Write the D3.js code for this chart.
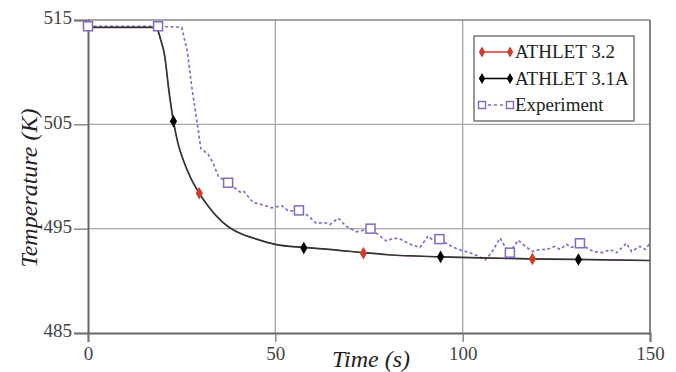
<!DOCTYPE html>
<html>
<head>
<meta charset="utf-8">
<script src="https://cdn.jsdelivr.net/npm/d3@7"></script>
<style>
  body { margin: 0; background: #fff; }
  svg { display: block; font-family: "Liberation Serif", "DejaVu Serif", serif; }
</style>
</head>
<body>
<script>
// time (s) / temperature (K)
var athletTime = [0, 17.5, 18.5, 19.4, 20.5, 21.5, 22.8, 24, 25.4, 27.5, 29.7, 32, 34.3, 37, 40, 45, 50, 57.5, 65, 73.5, 80, 94, 105, 118, 130, 150];
var athlet32 = [514.3, 514.3, 514.1, 513.1, 511.5, 508.5, 505.3, 503.2, 501.6, 499.8, 498.4, 497.2, 496.2, 495.3, 494.65, 494.0, 493.5, 493.2, 493.0, 492.7, 492.5, 492.3, 492.2, 492.1, 492.05, 491.95];
var athlet31A = [514.3, 514.3, 514.1, 513.1, 511.5, 508.5, 505.3, 503.2, 501.6, 499.8, 498.4, 497.2, 496.2, 495.3, 494.65, 494.0, 493.5, 493.2, 493.0, 492.7, 492.5, 492.3, 492.2, 492.1, 492.05, 491.95];
var marks32 = [[29.7, 498.4], [73.5, 492.65], [118.6, 492.1]];
var marks31A = [[22.8, 505.3], [57.6, 493.15], [94.1, 492.3], [130.9, 492.05]];

var expTime = [0, 18.7, 25, 26.5, 27.7, 29.4, 30.1, 32.1, 33.5, 34.8, 37.4, 40.6, 41.5, 44.1, 46.5, 49, 51.7, 53.5, 56.3, 58.5, 61, 63, 64.6, 66.8, 69, 71.7, 75.4, 77.9, 79.7, 81.5, 83.3, 86, 88.6, 90.8, 92, 93.8, 96, 98.8, 101.9, 104, 106, 107.7, 110, 111.3, 112.6, 114.8, 117.1, 118.8, 120.5, 122.4, 124.6, 126, 127.7, 129.1, 131.3, 133, 134.9, 137.5, 139.3, 141.1, 143.7, 145.1, 147.3, 148.7, 150];
var expTemp = [514.4, 514.4, 514.3, 512, 508.6, 504.5, 502.7, 502.1, 501.2, 500.0, 499.4, 498.5, 498.6, 497.5, 497.3, 497.0, 497.2, 496.7, 496.75, 496.3, 495.5, 495.6, 495.4, 496.0, 495.2, 494.7, 495.0, 494.3, 493.8, 494.1, 494.0, 493.5, 493.2, 494.3, 493.9, 494.0, 493.5, 493.0, 492.7, 492.4, 492.0, 492.7, 494.1, 493.3, 492.7, 493.9, 493.2, 492.8, 493.0, 493.0, 493.3, 493.0, 493.5, 493.2, 493.6, 493.2, 492.8, 492.7, 493.0, 492.7, 493.6, 492.8, 493.3, 493.0, 493.6];
var expMarks = [[0, 514.4], [18.7, 514.4], [37.4, 499.4], [56.3, 496.75], [75.4, 495.0], [93.8, 494.0], [112.6, 492.7], [131.3, 493.6]];

var xTicks = [0, 50, 100, 150];
var yTicks = [485, 495, 505, 515];
var legendNames = ["ATHLET 3.2", "ATHLET 3.1A", "Experiment"];

var width = 676, height = 372;
var plotL = 88, plotR = 650, plotT = 20, plotB = 333;

var svg = d3.select("body").append("svg")
    .attr("width", width)
    .attr("height", height);

var x = d3.scaleLinear().domain([0, 150]).range([plotL, plotR]);
var y = d3.scaleLinear().domain([485, 515]).range([plotB, plotT]);

// grid
svg.append("g").selectAll("line")
  .data(xTicks.slice(1, 3))
  .enter().append("line")
    .attr("x1", function(d){ return x(d); }).attr("x2", function(d){ return x(d); })
    .attr("y1", plotT).attr("y2", plotB)
    .attr("stroke", "#a8a8a8").attr("stroke-width", 1.3);
svg.append("g").selectAll("line")
  .data(yTicks.slice(1, 3))
  .enter().append("line")
    .attr("x1", plotL).attr("x2", plotR)
    .attr("y1", function(d){ return y(d); }).attr("y2", function(d){ return y(d); })
    .attr("stroke", "#a8a8a8").attr("stroke-width", 1.3);

// top / right frame
svg.append("line").attr("x1", plotL).attr("x2", plotR).attr("y1", y(515)).attr("y2", y(515))
  .attr("stroke", "#888").attr("stroke-width", 1.5);
svg.append("line").attr("x1", x(150)).attr("x2", x(150)).attr("y1", plotT).attr("y2", plotB)
  .attr("stroke", "#777").attr("stroke-width", 1.8);

// axes
var xAxis = svg.append("g")
    .attr("transform", "translate(0," + plotB + ")")
    .call(d3.axisBottom(x).tickValues(xTicks).tickSize(9).tickPadding(5));
var yAxis = svg.append("g")
    .attr("transform", "translate(" + plotL + ",0)")
    .call(d3.axisLeft(y).tickValues(yTicks).tickSize(14).tickPadding(2));
[xAxis, yAxis].forEach(function(a){
  a.attr("font-family", null).attr("font-size", null);
  a.select(".domain").attr("stroke", "#666").attr("stroke-width", 2);
  a.selectAll(".tick line").attr("stroke", "#777").attr("stroke-width", 1.3);
  a.selectAll("text")
    .attr("fill", "#444")
    .style("font-family", "Liberation Serif, serif")
    .style("font-size", "19px");
});
yAxis.selectAll(".tick text").attr("dy", "0.2em");

// axis titles
svg.append("text")
    .attr("x", 371).attr("y", 367)
    .attr("text-anchor", "middle")
    .style("font-style", "italic").style("font-size", "24px")
    .attr("fill", "#222")
    .text("Time (s)");
svg.append("text")
    .attr("transform", "translate(37,188) rotate(-90)")
    .attr("text-anchor", "middle")
    .style("font-style", "italic").style("font-size", "24px")
    .attr("fill", "#222")
    .text("Temperature (K)");

function pairs(xs, ys){ return xs.map(function(d, i){ return [d, ys[i]]; }); }

var smooth = d3.line()
  .x(function(d){ return x(d[0]); })
  .y(function(d){ return y(d[1]); })
  .curve(d3.curveMonotoneX);
var straight = d3.line()
  .x(function(d){ return x(d[0]); })
  .y(function(d){ return y(d[1]); });

// experiment
svg.append("path")
  .attr("d", straight(pairs(expTime, expTemp)))
  .attr("fill", "none")
  .attr("stroke", "#8367c2")
  .attr("stroke-width", 1.6)
  .attr("stroke-dasharray", "3,2.5");

// ATHLET lines (3.2 lies under 3.1A)
svg.append("path")
  .attr("d", smooth(pairs(athletTime, athlet32)))
  .attr("fill", "none").attr("stroke", "#d03b2b").attr("stroke-width", 0.8);
svg.append("path")
  .attr("d", smooth(pairs(athletTime, athlet31A)))
  .attr("fill", "none").attr("stroke", "#333").attr("stroke-width", 1.7);

var diamond = d3.symbol().type(d3.symbolDiamond).size(46);

svg.append("g").selectAll("rect")
  .data(expMarks)
  .enter().append("rect")
    .attr("x", function(d){ return x(d[0]) - 4.5; })
    .attr("y", function(d){ return y(d[1]) - 4.5; })
    .attr("width", 9).attr("height", 9)
    .attr("fill", "#fff").attr("stroke", "#8367c2").attr("stroke-width", 1.5);

svg.append("g").selectAll("path")
  .data(marks32)
  .enter().append("path")
    .attr("d", diamond)
    .attr("transform", function(d){ return "translate(" + x(d[0]) + "," + y(d[1]) + ")"; })
    .attr("fill", "#d03b2b");
svg.append("g").selectAll("path")
  .data(marks31A)
  .enter().append("path")
    .attr("d", diamond)
    .attr("transform", function(d){ return "translate(" + x(d[0]) + "," + y(d[1]) + ")"; })
    .attr("fill", "#000");

// legend
var legend = svg.append("g").attr("transform", "translate(474,36)");
legend.append("rect")
  .attr("width", 160).attr("height", 85)
  .attr("fill", "#fff").attr("stroke", "#555").attr("stroke-width", 1.2);

var legendColors = ["#d03b2b", "#000", "#8367c2"];
var row = legend.selectAll(".row")
  .data(legendNames)
  .enter().append("g")
    .attr("class", "row")
    .attr("transform", function(d, i){ return "translate(0," + (16 + i * 26.5) + ")"; });

row.append("line")
  .attr("x1", 8).attr("x2", 36)
  .attr("stroke", function(d, i){ return legendColors[i]; })
  .attr("stroke-width", 1.5)
  .attr("stroke-dasharray", function(d, i){ return i == 2 ? "3,3" : null; });
row.each(function(d, i){
  var g = d3.select(this);
  [8, 36].forEach(function(px){
    if (i == 2) {
      g.append("rect").attr("x", px - 3.5).attr("y", -3.5).attr("width", 7).attr("height", 7)
        .attr("fill", "#fff").attr("stroke", legendColors[i]).attr("stroke-width", 1.4);
    } else {
      g.append("path").attr("d", d3.symbol().type(d3.symbolDiamond).size(34))
        .attr("transform", "translate(" + px + ",0)")
        .attr("fill", legendColors[i]);
    }
  });
});
row.append("text")
  .attr("x", 41).attr("dy", "0.33em")
  .style("font-size", "19px")
  .attr("fill", "#222")
  .text(function(d){ return d; });
</script>
</body>
</html>
